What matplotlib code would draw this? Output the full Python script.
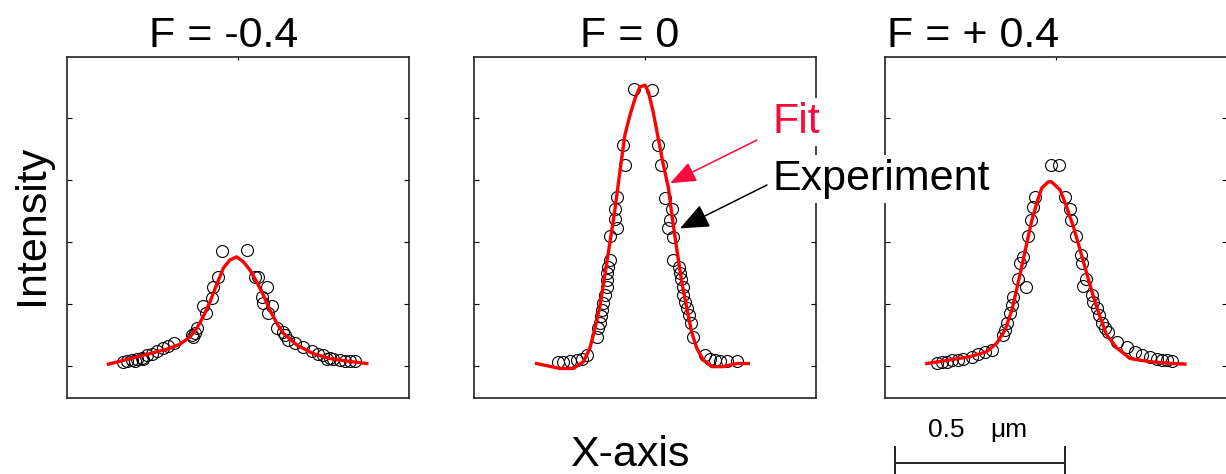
import matplotlib
matplotlib.use('Agg')
import matplotlib.pyplot as plt

plt.rcParams['font.family'] = ['Liberation Sans', 'DejaVu Sans']

# fitted profiles and measured points, x in um, intensity in arb. units
fit_x_neg = [-0.381, -0.309, -0.259, -0.210, -0.171, -0.141, -0.121, -0.102, -0.082,
             -0.063, -0.043, -0.024, -0.004, 0.016, 0.035, 0.055, 0.074, 0.094,
             0.114, 0.133, 0.173, 0.221, 0.271, 0.320, 0.379]
fit_y_neg = [0.03, 0.13, 0.20, 0.27, 0.35, 0.47, 0.61, 0.80, 1.04, 1.31, 1.58, 1.71,
             1.76, 1.68, 1.55, 1.36, 1.15, 0.90, 0.69, 0.53, 0.34, 0.20, 0.12, 0.08, 0.04]
exp_x_neg = [-0.046, -0.058, -0.073, -0.077, -0.102, -0.094, -0.121, -0.126, -0.131,
             -0.136, -0.188, -0.205, -0.220, -0.239, -0.254, -0.269, -0.279, -0.283,
             -0.298, -0.303, -0.313, -0.327, -0.337,
             0.026, 0.050, 0.060, 0.084, 0.070, 0.074, 0.099, 0.089, 0.114, 0.133,
             0.138, 0.148, 0.168, 0.192, 0.217, 0.236, 0.251, 0.261, 0.271, 0.280,
             0.300, 0.315, 0.329, 0.344]
exp_y_neg = [1.86, 1.44, 1.28, 1.09, 0.96, 0.85, 0.61, 0.53, 0.47, 0.50, 0.37, 0.33,
             0.29, 0.24, 0.20, 0.17, 0.11, 0.13, 0.11, 0.08, 0.10, 0.08, 0.07,
             1.87, 1.44, 1.44, 1.28, 1.12, 1.01, 0.96, 0.85, 0.61, 0.55, 0.50, 0.42,
             0.37, 0.30, 0.24, 0.20, 0.18, 0.11, 0.13, 0.11, 0.10, 0.08, 0.08, 0.08]

fit_x_zero = [-0.319, -0.250, -0.211, -0.181, -0.162, -0.147, -0.132, -0.118, -0.103,
              -0.088, -0.074, -0.059, -0.044, -0.029, -0.015, 0.0, 0.010, 0.024, 0.039,
              0.054, 0.069, 0.079, 0.093, 0.108, 0.123, 0.137, 0.152, 0.171, 0.196,
              0.230, 0.270, 0.304]
fit_y_zero = [0.04, -0.04, -0.04, 0.07, 0.29, 0.61, 0.98, 1.47, 2.00, 2.54, 3.13, 3.73,
              4.05, 4.32, 4.50, 4.53, 4.42, 4.10, 3.67, 3.24, 2.87, 2.44, 1.90, 1.36,
              0.93, 0.55, 0.29, 0.10, -0.01, -0.01, 0.04, 0.04]
exp_x_zero = [-0.031, -0.064, -0.059, -0.083, -0.088, -0.088, -0.083, -0.103, -0.103,
              -0.108, -0.111, -0.113, -0.113, -0.118, -0.123, -0.127, -0.130, -0.132,
              -0.137, -0.142, -0.171, -0.186, -0.201, -0.221, -0.240, -0.255,
              0.020, 0.039, 0.046, 0.059, 0.079, 0.074, 0.069, 0.083, 0.083, 0.101,
              0.103, 0.105, 0.113, 0.113, 0.118, 0.123, 0.130, 0.134, 0.142, 0.176,
              0.191, 0.206, 0.221, 0.240, 0.270]
exp_y_zero = [4.46, 3.56, 3.25, 2.73, 2.54, 2.37, 2.22, 2.09, 1.71, 1.60, 1.50, 1.39,
              1.28, 1.15, 1.01, 0.90, 0.80, 0.69, 0.61, 0.47, 0.17, 0.12, 0.10, 0.08,
              0.07, 0.07,
              4.45, 3.56, 3.25, 2.71, 2.54, 2.35, 2.22, 2.08, 1.71, 1.60, 1.50, 1.40,
              1.28, 1.15, 1.04, 0.93, 0.82, 0.69, 0.47, 0.18, 0.12, 0.10, 0.08, 0.08,
              0.08]

fit_x_pos = [-0.380, -0.321, -0.253, -0.204, -0.174, -0.150, -0.130, -0.116, -0.101,
             -0.086, -0.071, -0.057, -0.042, -0.023, -0.013, 0.012, 0.031, 0.051, 0.071,
             0.090, 0.110, 0.129, 0.149, 0.179, 0.218, 0.276, 0.345, 0.379]
fit_y_pos = [0.04, 0.09, 0.15, 0.23, 0.37, 0.58, 0.90, 1.23, 1.60, 1.98, 2.35, 2.62,
             2.87, 2.97, 2.97, 2.84, 2.57, 2.25, 1.87, 1.50, 1.12, 0.80, 0.50, 0.29,
             0.12, 0.07, 0.04, 0.03]
exp_x_pos = [-0.015, 0.009, -0.062, -0.067, -0.074, -0.081, -0.096, -0.106, -0.111,
             -0.088, -0.126, -0.130, -0.135, -0.145, -0.150, -0.155, -0.189, -0.209,
             -0.229, -0.248, -0.273, -0.287, -0.307, -0.321, -0.336, -0.351,
             0.026, 0.041, 0.043, 0.059, 0.073, 0.076, 0.088, 0.080, 0.105, 0.110,
             0.120, 0.127, 0.134, 0.144, 0.154, 0.179, 0.210, 0.232, 0.252, 0.276,
             0.296, 0.311, 0.326, 0.340]
exp_y_pos = [3.24, 3.24, 2.73, 2.57, 2.35, 2.09, 1.76, 1.66, 1.41, 1.28, 1.12, 0.98,
             0.85, 0.69, 0.58, 0.50, 0.26, 0.23, 0.19, 0.15, 0.12, 0.10, 0.09, 0.07,
             0.07, 0.05,
             2.73, 2.54, 2.35, 2.09, 1.79, 1.66, 1.41, 1.29, 1.15, 1.04, 0.93, 0.82,
             0.69, 0.61, 0.55, 0.39, 0.31, 0.23, 0.18, 0.14, 0.11, 0.10, 0.09, 0.08]

titles = ['F = -0.4', 'F = 0', 'F = + 0.4']
title_left = [149, 580, 887]          # pixels from the left edge
panel_left = [67, 474, 885]
yticks = [0, 1, 2, 3, 4]

W, H = 1226, 474
fig = plt.figure(figsize=(W / 100, H / 100), dpi=100)


def fx(px):
    return px / W


def fy(py):
    # py measured from the top of the figure
    return 1 - py / H


panels = [
    (fit_x_neg, fit_y_neg, exp_x_neg, exp_y_neg),
    (fit_x_zero, fit_y_zero, exp_x_zero, exp_y_zero),
    (fit_x_pos, fit_y_pos, exp_x_pos, exp_y_pos),
]
axes = []
for i, (fxs, fys, exs, eys) in enumerate(panels):
    ax = fig.add_axes([fx(panel_left[i]), fy(398), 342 / W, 341 / H])
    ax.plot(exs, eys, 'o', ms=8.6, mfc='none', mec='black', mew=0.8, zorder=2)
    ax.plot(fxs, fys, '-', color='red', lw=2.4, zorder=3)
    ax.set_xlim(-0.503, 0.503)
    ax.set_ylim(-0.516, 4.984)
    ax.set_yticks(yticks)
    ax.set_xticks([0])
    ax.tick_params(axis='y', direction='in', left=True, right=True, length=3.6,
                   width=0.8, labelleft=False)
    ax.tick_params(axis='x', direction='in', top=True, bottom=False, length=2.5,
                   width=0.8, labelbottom=False)
    for s in ax.spines.values():
        s.set_linewidth(1.2)
        s.set_color('#222222')
    fig.text(fx(title_left[i]), fy(46.7), titles[i], fontsize=31, ha='left',
             va='baseline')
    axes.append(ax)

fig.text(fx(32), fy(225), 'Intensity', fontsize=31, rotation=90, ha='center',
         va='center')
fig.text(fx(630), fy(466), 'X-axis', fontsize=31, ha='center', va='baseline')

# labels for the two series with arrows into the middle panel
red = '#fa0a3c'
fig.text(fx(773), fy(133), 'Fit', fontsize=31, color=red, ha='left', va='baseline',
         bbox=dict(facecolor='white', edgecolor='none', pad=3), zorder=5)
fig.text(fx(773), fy(190), 'Experiment', fontsize=31, ha='left', va='baseline',
         bbox=dict(facecolor='white', edgecolor='none', pad=3), zorder=5)
mid = axes[1]
mid.annotate('', xy=(0.074, 2.95), xytext=(757, H - 140), textcoords='figure pixels',
             arrowprops=dict(arrowstyle='-|>,head_length=0.8,head_width=0.32',
                             color=red, lw=1.1, mutation_scale=20, shrinkA=0,
                             shrinkB=0), annotation_clip=False)
mid.annotate('', xy=(0.103, 2.22), xytext=(767, H - 185), textcoords='figure pixels',
             arrowprops=dict(arrowstyle='-|>,head_length=0.9,head_width=0.38',
                             color='black', lw=1.1, mutation_scale=20, shrinkA=0,
                             shrinkB=0), annotation_clip=False)

# 0.5 um scale bar under the right panel
right = axes[2]
bar_x0 = -0.474
bar_len = 0.5
right.plot([bar_x0, bar_x0 + bar_len], [-1.56, -1.56], color='#222222', lw=1.4,
           clip_on=False)
for bx in (bar_x0, bar_x0 + bar_len):
    right.plot([bx, bx], [-1.30, -1.80], color='#222222', lw=1.4, clip_on=False)
right.text(-0.324, -1.145, '0.5', fontsize=19, ha='center', va='baseline')
right.text(-0.14, -1.145, '\u03bcm', fontsize=19, ha='center', va='baseline')

fig.savefig('out.png', dpi=100)
